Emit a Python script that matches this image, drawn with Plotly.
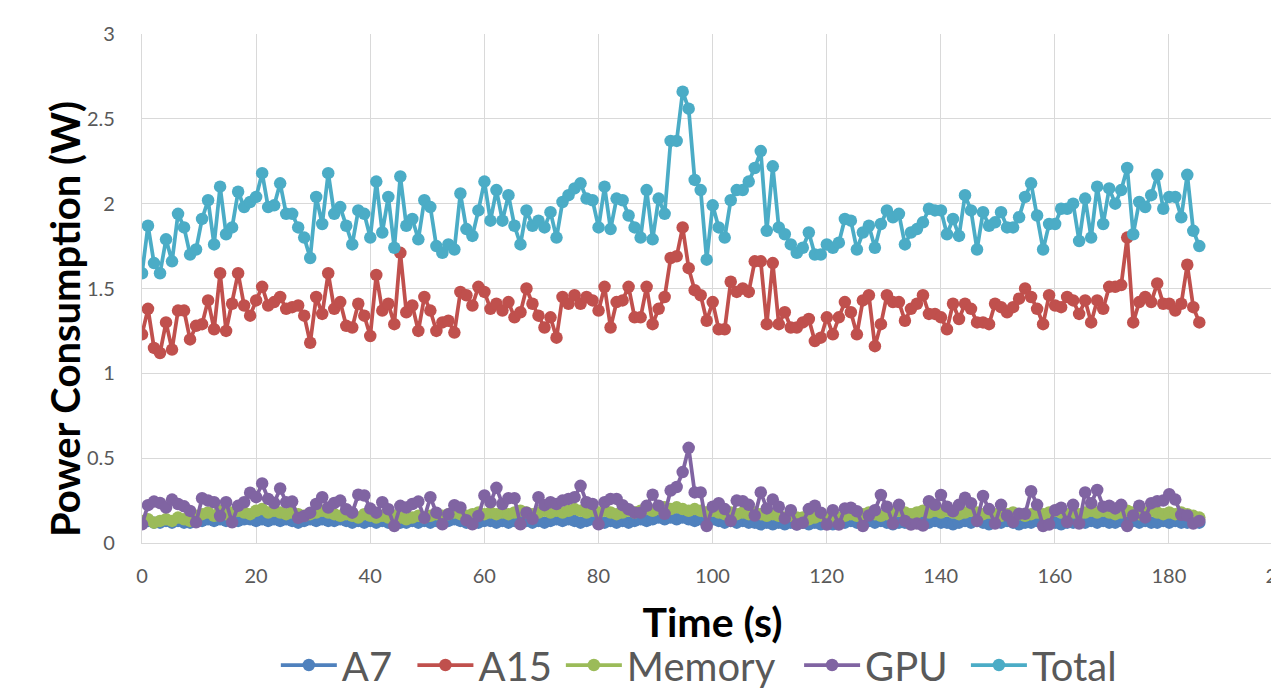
import plotly.graph_objects as go

SAMPLE_PERIOD_S = 1.053

total = [1.59,1.87,1.65,1.59,1.79,1.66,1.94,1.86,1.70,1.73,1.91,2.02,1.76,2.10,1.82,1.86,2.07,1.98,2.01,2.04,
         2.18,1.98,1.99,2.12,1.94,1.94,1.86,1.80,1.68,2.04,1.88,2.18,1.94,1.98,1.87,1.76,1.96,1.94,1.80,2.13,
         1.83,2.04,1.74,2.16,1.87,
         1.91,1.79,2.02,1.98,1.75,1.71,1.76,1.73,2.06,1.85,1.81,1.96,2.13,1.90,2.08,1.90,2.05,1.87,1.76,1.96,
         1.87,1.90,1.86,1.95,1.80,2.01,2.05,2.09,2.12,2.03,2.02,1.86,2.10,1.85,2.03,2.02,1.93,1.86,1.80,2.08,
         1.79,2.03,1.94,2.37,
         2.37,2.66,2.56,2.14,2.08,1.67,1.99,1.86,1.80,2.02,2.08,2.08,2.13,2.21,2.31,1.84,2.22,1.86,1.82,1.76,
         1.71,1.74,1.83,1.70,1.70,1.76,1.74,1.77,1.91,1.90,1.73,1.83,1.87,1.74,1.88,1.96,1.92,1.94,1.76,1.83,
         1.85,1.89,1.97,1.96,
         1.96,1.82,1.91,1.81,2.05,1.96,1.73,1.95,1.87,1.89,1.95,1.86,1.86,1.92,2.04,2.12,1.93,1.73,1.88,1.88,
         1.97,1.97,2.00,1.78,2.03,1.80,2.10,1.88,2.09,2.00,2.08,2.21,1.82,2.01,1.98,2.05,2.17,1.97,2.04,2.04,
         1.92,2.17,1.84,1.75]

a15 = [1.23,1.38,1.15,1.12,1.30,1.14,1.37,1.37,1.20,1.28,1.29,1.43,1.26,1.59,1.25,1.41,1.59,1.40,1.34,1.43,
       1.51,1.40,1.42,1.45,1.38,1.39,1.40,1.34,1.18,1.45,1.35,1.59,1.38,1.42,1.28,1.27,1.41,1.34,1.22,1.58,
       1.37,1.41,1.29,1.71,1.36,
       1.40,1.25,1.45,1.37,1.25,1.30,1.31,1.24,1.48,1.46,1.40,1.51,1.48,1.38,1.41,1.37,1.42,1.33,1.36,1.50,
       1.41,1.34,1.27,1.33,1.21,1.45,1.41,1.46,1.41,1.45,1.43,1.37,1.51,1.27,1.42,1.43,1.51,1.33,1.33,1.51,
       1.29,1.38,1.45,1.68,
       1.69,1.86,1.62,1.49,1.46,1.31,1.42,1.26,1.26,1.54,1.48,1.50,1.48,1.66,1.66,1.29,1.65,1.29,1.36,1.27,
       1.27,1.30,1.32,1.19,1.21,1.33,1.23,1.33,1.42,1.36,1.23,1.43,1.46,1.16,1.29,1.46,1.42,1.42,1.31,1.38,
       1.41,1.46,1.35,1.35,
       1.33,1.26,1.41,1.32,1.41,1.38,1.30,1.30,1.29,1.41,1.39,1.36,1.39,1.44,1.50,1.45,1.38,1.29,1.46,1.40,
       1.39,1.45,1.43,1.35,1.43,1.30,1.43,1.38,1.51,1.51,1.52,1.80,1.30,1.42,1.45,1.42,1.53,1.41,1.41,1.37,
       1.41,1.64,1.39,1.30]

gpu = [0.11,0.223,0.244,0.236,0.209,0.256,0.230,0.216,0.189,0.122,
       0.264,0.250,0.240,0.159,0.240,0.122,0.219,0.240,0.296,0.270,
       0.351,0.260,0.236,0.321,0.240,0.244,0.148,0.159,0.179,0.230,
       0.270,0.209,0.236,0.250,0.199,0.179,0.285,0.280,0.203,0.179,
       0.240,0.199,0.10,0.219,0.209,0.230,0.244,0.148,0.270,0.179,
       0.11,0.169,0.223,0.209,0.134,0.11,0.159,0.280,0.240,0.325,
       0.230,0.264,0.264,0.11,0.179,0.142,0.270,0.223,0.240,0.230,
       0.250,0.260,0.270,0.337,0.240,0.230,0.11,0.240,0.260,0.260,
       0.223,0.199,0.179,0.179,0.219,0.285,
       0.22,
       0.172,0.309,0.330,0.418,0.561,0.298,0.298,0.10,0.214,0.235,
       0.20,
       0.130,0.250,0.246,0.225,0.162,0.298,0.204,0.256,0.214,0.145,
       0.193,0.109,0.120,0.200,0.220,0.179,0.109,0.193,0.109,0.204,
       0.208,0.187,0.10,0.162,0.193,0.283,0.214,0.115,0.225,0.130,
       0.109,0.115,0.103,0.246,0.225,0.283,0.214,0.187,0.225,0.267,
       0.235,0.130,0.277,0.200,0.115,0.225,0.162,0.124,0.172,0.172,
       0.305,0.225,0.10,0.109,0.193,0.208,0.124,0.225,0.115,0.298,
       0.235,0.313,0.214,0.220,0.204,0.225,0.10,0.162,0.220,0.151,
       0.235,0.246,0.250,0.288,0.256,0.166,0.162,0.115,0.130]

memory = [0.13,0.14,0.12,0.13,0.14,0.13,0.15,0.14,0.13,0.16,
          0.17,0.18,0.16,0.19,0.17,0.18,0.19,0.18,0.17,0.19,
          0.20,0.18,0.19,0.18,0.17,0.18,0.17,0.16,0.17,0.18,
          0.19,0.18,0.17,0.16,0.17,0.16,0.15,0.17,0.16,0.15,
          0.16,0.15,0.16,0.15,0.14,0.15,0.16,0.15,0.16,0.17,
          0.16,0.17,0.18,0.17,0.16,0.17,0.18,0.17,0.18,0.17,
          0.18,0.17,0.18,0.19,0.18,0.17,0.18,0.19,0.18,0.19,
          0.18,0.19,0.20,0.19,0.18,0.19,0.18,0.19,0.18,0.17,
          0.18,0.19,0.18,0.19,0.20,0.19,0.20,0.21,0.20,0.21,
          0.20,0.19,0.20,0.19,0.18,0.19,0.18,0.17,0.18,0.17,
          0.18,0.17,0.18,0.17,0.16,0.17,0.16,0.15,0.16,0.15,
          0.15,0.14,0.15,0.16,0.15,0.14,0.15,0.16,0.17,0.16,
          0.17,0.18,0.17,0.16,0.17,0.18,0.19,0.18,0.17,0.18,
          0.19,0.18,0.19,0.18,0.19,0.18,0.17,0.18,0.19,0.18,
          0.17,0.18,0.17,0.16,0.17,0.18,0.17,0.16,0.17,0.18,
          0.17,0.18,0.19,0.18,0.17,0.18,0.17,0.18,0.19,0.18,
          0.19,0.18,0.17,0.18,0.19,0.18,0.17,0.18,0.19,0.18,
          0.17,0.18,0.17,0.18,0.17,0.16,0.15]

a7 = [0.12,0.13,0.12,0.12,0.13,0.12,0.13,0.12,0.12,0.13,
      0.13,0.14,0.13,0.14,0.13,0.14,0.13,0.14,0.14,0.13,
      0.14,0.13,0.14,0.13,0.14,0.13,0.12,0.13,0.14,0.13,
      0.14,0.13,0.13,0.14,0.13,0.12,0.13,0.12,0.13,0.12,
      0.13,0.12,0.13,0.12,0.12,0.13,0.12,0.13,0.12,0.13,
      0.12,0.13,0.14,0.13,0.12,0.13,0.12,0.13,0.13,0.12,
      0.13,0.12,0.13,0.14,0.13,0.12,0.13,0.12,0.13,0.14,
      0.13,0.14,0.13,0.12,0.13,0.14,0.13,0.12,0.13,0.12,
      0.13,0.12,0.13,0.14,0.13,0.14,0.15,0.14,0.15,0.14,
      0.15,0.14,0.13,0.14,0.13,0.14,0.13,0.12,0.13,0.12,
      0.13,0.12,0.12,0.11,0.12,0.11,0.12,0.11,0.12,0.11,
      0.12,0.11,0.12,0.11,0.12,0.11,0.12,0.12,0.13,0.12,
      0.12,0.13,0.12,0.13,0.12,0.11,0.12,0.12,0.13,0.12,
      0.13,0.12,0.13,0.12,0.12,0.11,0.12,0.13,0.12,0.13,
      0.12,0.11,0.12,0.12,0.13,0.12,0.11,0.12,0.12,0.13,
      0.12,0.13,0.12,0.11,0.12,0.12,0.13,0.12,0.13,0.12,
      0.13,0.12,0.12,0.13,0.12,0.13,0.12,0.13,0.12,0.12,
      0.13,0.12,0.13,0.12,0.12,0.13,0.12]

time_s = [round(i * SAMPLE_PERIOD_S, 3) for i in range(len(total))]

series_names = ["A7", "A15", "Memory", "GPU", "Total"]
series_values = [a7, a15, memory, gpu, total]
series_colors = ["#4F81BD", "#C0504D", "#9BBB59", "#8064A2", "#4BACC6"]
# left edge (paper fraction) of each legend entry
legend_x = [0.1173, 0.2370, 0.3671, 0.5759, 0.7221]

FONT = "Lato"
ML, MR, MT, MB = 142, 20, 34, 151
fig = go.Figure()
legend_layouts = {}
for i, (name, vals, col) in enumerate(zip(series_names, series_values, series_colors)):
    lg = "legend" if i == 0 else f"legend{i+1}"
    fig.add_trace(go.Scatter(
        x=time_s[:len(vals)], y=vals, name=name, mode="lines+markers",
        line=dict(color=col, width=3.75),
        marker=dict(color=col, size=12.5, line=dict(width=0)),
        legend=lg,
    ))
    legend_layouts[lg] = dict(
        orientation="h", x=legend_x[i], y=-0.2397, xanchor="left", yanchor="middle",
        font=dict(family=FONT, size=40, color="#595959"), itemwidth=56,
        bgcolor="rgba(0,0,0,0)",
    )

fig.update_layout(
    width=1303, height=694,
    margin=dict(l=ML, r=MR, t=MT, b=MB, autoexpand=False),
    paper_bgcolor="white", plot_bgcolor="white",
    font=dict(family=FONT, color="#595959"),
    showlegend=True,
    xaxis=dict(range=[0, 200], dtick=20, tick0=0, showgrid=True, gridcolor="#D9D9D9", gridwidth=1.3,
               showline=True, linecolor="#D9D9D9", linewidth=1.3, zeroline=False,
               ticks="outside", ticklen=15, tickcolor="rgba(0,0,0,0)",
               tickfont=dict(family=FONT, size=20, color="#595959"),
               title=dict(text="Time (s)", font=dict(family=FONT, size=41, color="black", weight="bold"),
                          standoff=22)),
    yaxis=dict(range=[0, 3], dtick=0.5, tick0=0, showgrid=True, gridcolor="#D9D9D9", gridwidth=1.3,
               showline=True, linecolor="#D9D9D9", linewidth=1.3, zeroline=False,
               ticks="outside", ticklen=22, tickcolor="rgba(0,0,0,0)",
               tickfont=dict(family=FONT, size=20, color="#595959")),
    annotations=[dict(text="Power Consumption (W)", textangle=-90, xref="paper", yref="paper",
                      x=-0.0675, y=0.44, xanchor="center", yanchor="middle", showarrow=False,
                      font=dict(family=FONT, size=40, color="black", weight="bold"))],
    **legend_layouts,
)

fig.write_html("out.html", post_script="document.documentElement.style.overflow='hidden';document.body.style.overflow='hidden';document.body.style.margin='0';")
